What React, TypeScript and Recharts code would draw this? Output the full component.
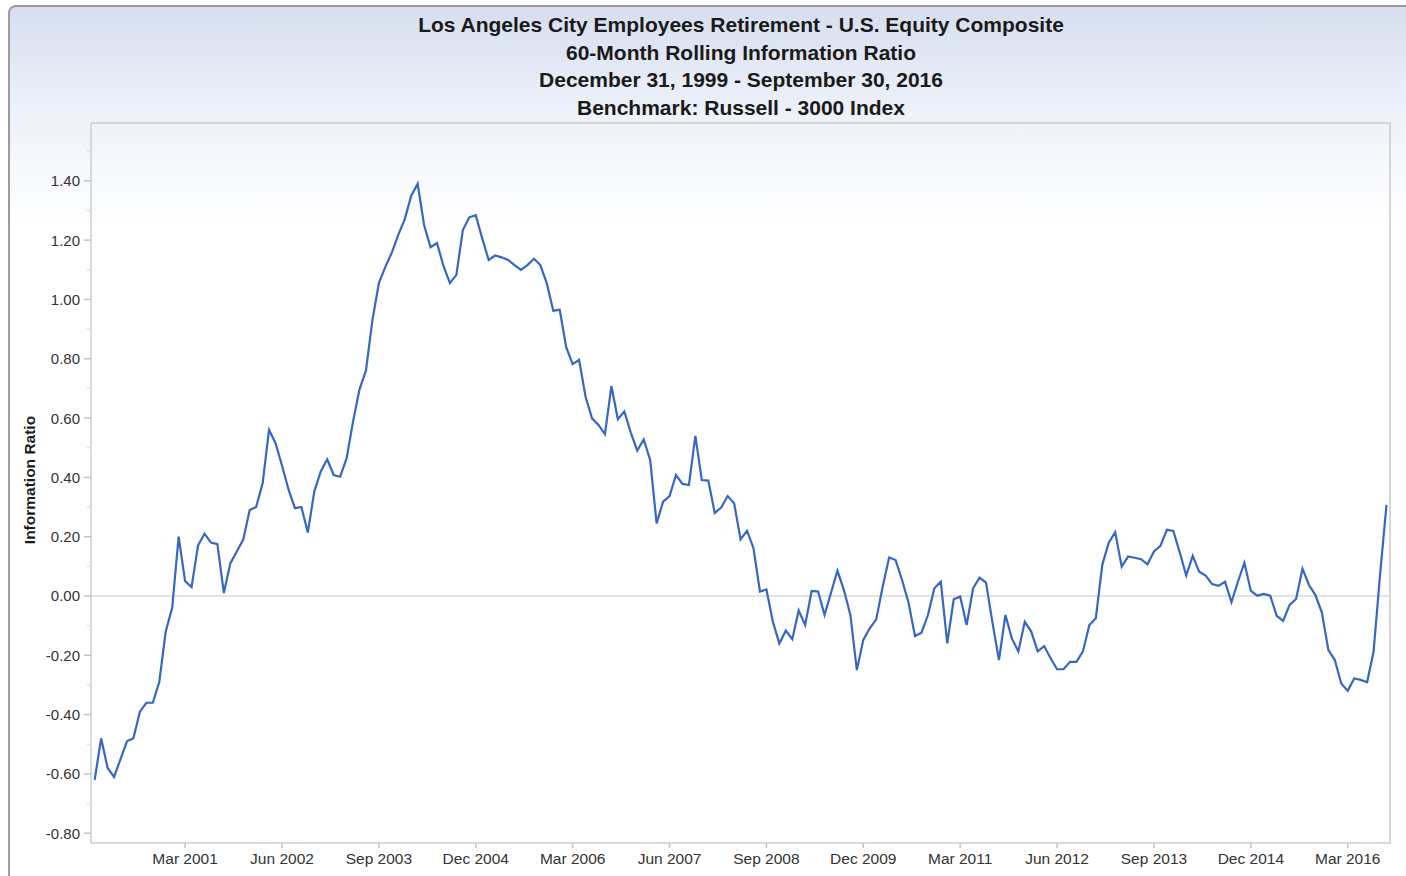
import { Line, LineChart, ReferenceLine, XAxis, YAxis } from "recharts";

/* monthly 60-month rolling IR, Jan 2000 .. Sep 2016 (index 0 = Jan 2000) */
const INFO_RATIO = [
  -0.62, -0.48, -0.58, -0.61, -0.55, -0.49, -0.48, -0.39, -0.36, -0.36,
  -0.29, -0.12, -0.04, 0.2, 0.05, 0.03, 0.17, 0.21, 0.18, 0.175,
  0.01, 0.11, 0.15, 0.19, 0.29, 0.3, 0.38, 0.56, 0.515, 0.44,
  0.36, 0.296, 0.3, 0.214, 0.352, 0.42, 0.461, 0.408, 0.402, 0.464,
  0.588, 0.697, 0.76, 0.93, 1.055, 1.11, 1.158, 1.218, 1.27, 1.349,
  1.39, 1.251, 1.176, 1.19, 1.113, 1.055, 1.083, 1.234, 1.277, 1.284,
  1.206, 1.133, 1.148, 1.142, 1.133, 1.116, 1.1, 1.116, 1.137, 1.116,
  1.054, 0.962, 0.965, 0.839, 0.782, 0.796, 0.672, 0.599, 0.577, 0.546,
  0.708, 0.596, 0.622, 0.551, 0.49, 0.528, 0.459, 0.245, 0.318, 0.337,
  0.408, 0.378, 0.374, 0.54, 0.391, 0.389, 0.28, 0.298, 0.337, 0.313,
  0.191, 0.22, 0.161, 0.015, 0.022, -0.087, -0.16, -0.117, -0.146, -0.049,
  -0.098, 0.017, 0.015, -0.064, 0.011, 0.085, 0.02, -0.064, -0.25, -0.148,
  -0.109, -0.079, 0.031, 0.13, 0.121, 0.054, -0.022, -0.135, -0.124, -0.065,
  0.026, 0.048, -0.16, -0.011, -0.002, -0.098, 0.026, 0.062, 0.045, -0.09,
  -0.216, -0.064, -0.143, -0.187, -0.087, -0.12, -0.187, -0.169, -0.21, -0.247,
  -0.247, -0.222, -0.222, -0.187, -0.098, -0.075, 0.105, 0.18, 0.215, 0.099,
  0.133, 0.129, 0.124, 0.107, 0.15, 0.169, 0.223, 0.219, 0.146, 0.069,
  0.135, 0.082, 0.069, 0.04, 0.034, 0.048, -0.021, 0.048, 0.112, 0.017,
  0.001, 0.007, 0.001, -0.067, -0.084, -0.03, -0.01, 0.092, 0.037, 0.003,
  -0.056, -0.182, -0.216, -0.295, -0.32, -0.278, -0.283, -0.291, -0.188, 0.07,
  0.307,
];

const X_TICKS = [14, 29, 44, 59, 74, 89, 104, 119, 134, 149, 164, 179, 194];
const X_TICK_LABELS = [
  "Mar 2001", "Jun 2002", "Sep 2003", "Dec 2004", "Mar 2006", "Jun 2007", "Sep 2008",
  "Dec 2009", "Mar 2011", "Jun 2012", "Sep 2013", "Dec 2014", "Mar 2016",
];
const Y_MAJOR = [-0.8, -0.6, -0.4, -0.2, 0, 0.2, 0.4, 0.6, 0.8, 1.0, 1.2, 1.4];
const Y_MINOR = [-0.7, -0.5, -0.3, -0.1, 0.1, 0.3, 0.5, 0.7, 0.9, 1.1, 1.3, 1.5];

const TITLE_LINES = [
  "Los Angeles City Employees Retirement - U.S. Equity Composite",
  "60-Month Rolling Information Ratio",
  "December 31, 1999 - September 30, 2016",
  "Benchmark: Russell - 3000 Index",
];

const FONT = "'Liberation Sans', Arial, sans-serif";
const LINE_BLUE = "#3567c3";
const AXIS_GRAY = "#c9cfd8";
const PLOT_LEFT = 91;
const PLOT_BOTTOM = 843;

const data = INFO_RATIO.map((ir, i) => ({ i, ir }));

function YTick({ y, payload }: any) {
  const v = payload.value as number;
  const major = Y_MAJOR.some((m) => Math.abs(m - v) < 1e-6);
  return (
    <g>
      <line
        x1={PLOT_LEFT - (major ? 7 : 4)}
        x2={PLOT_LEFT}
        y1={y}
        y2={y}
        stroke={major ? "#c4c4c4" : "#e0e0e0"}
        strokeWidth={1.5}
      />
      {major && (
        <text x={PLOT_LEFT - 11} y={y} textAnchor="end" dominantBaseline="central" fontSize={15} fill="#333" fontFamily={FONT}>
          {v.toFixed(2)}
        </text>
      )}
    </g>
  );
}

function XTick({ x, payload }: any) {
  const idx = X_TICKS.indexOf(payload.value);
  return (
    <g>
      <line x1={x} x2={x} y1={PLOT_BOTTOM} y2={PLOT_BOTTOM + 5} stroke="#c4c4c4" strokeWidth={1.5} />
      <text x={x} y={PLOT_BOTTOM + 15} textAnchor="middle" dominantBaseline="central" fontSize={15.5} fill="#333" fontFamily={FONT}>
        {X_TICK_LABELS[idx]}
      </text>
    </g>
  );
}

export default function App() {
  return (
    <div style={{ position: "absolute", left: 0, top: 0, width: 1406, height: 876, overflow: "hidden", background: "#fff", fontFamily: FONT }}>
      <div
        style={{
          position: "absolute",
          left: 8,
          top: 5,
          width: 1420,
          height: 900,
          border: "2px solid #9c9c9c",
          borderRadius: 8,
          background: "linear-gradient(to bottom, #d6deef 0px, #eef2f9 110px, #ffffff 220px)",
        }}
      />
      {TITLE_LINES.map((t, k) => (
        <div
          key={t}
          style={{
            position: "absolute",
            left: PLOT_LEFT,
            width: 1300,
            top: 13 + k * 27.7,
            textAlign: "center",
            fontSize: 21,
            fontWeight: "bold",
            color: "#1a1a1a",
            lineHeight: "24px",
          }}
        >
          {t}
        </div>
      ))}
      <div
        style={{
          position: "absolute",
          left: 30 - 80,
          top: 480 - 10,
          width: 160,
          height: 20,
          lineHeight: "20px",
          textAlign: "center",
          transform: "rotate(-90deg)",
          fontSize: 15.5,
          fontWeight: "bold",
          color: "#1a1a1a",
        }}
      >
        Information Ratio
      </div>
      <div style={{ position: "absolute", left: 0, top: 0 }}>
        <LineChart width={1406} height={876} data={data} margin={{ top: 123, right: 15, bottom: 0, left: 31 }}>
          <XAxis
            dataKey="i"
            type="number"
            domain={[-0.57, 200.7]}
            allowDataOverflow
            ticks={X_TICKS}
            interval={0}
            height={33}
            tickLine={false}
            axisLine={{ stroke: AXIS_GRAY, strokeWidth: 1.5 }}
            tick={<XTick />}
          />
          <YAxis
            type="number"
            domain={[-0.833, 1.595]}
            allowDataOverflow
            ticks={[...Y_MAJOR, ...Y_MINOR].sort((a, b) => a - b)}
            interval={0}
            width={60}
            tickLine={false}
            axisLine={{ stroke: AXIS_GRAY, strokeWidth: 1.5 }}
            tick={<YTick />}
          />
          <ReferenceLine y={0} stroke="#c8c8c8" strokeWidth={1.2} />
          <Line
            type="linear"
            dataKey="ir"
            stroke={LINE_BLUE}
            strokeWidth={2.2}
            dot={false}
            isAnimationActive={false}
          />
        </LineChart>
      </div>
      <div
        style={{
          position: "absolute",
          left: PLOT_LEFT,
          top: 122,
          width: 1300,
          height: 721,
          borderTop: "2px solid #d6d6d6",
          borderRight: "2px solid #d6d6d6",
          boxSizing: "border-box",
          pointerEvents: "none",
        }}
      />
    </div>
  );
}
